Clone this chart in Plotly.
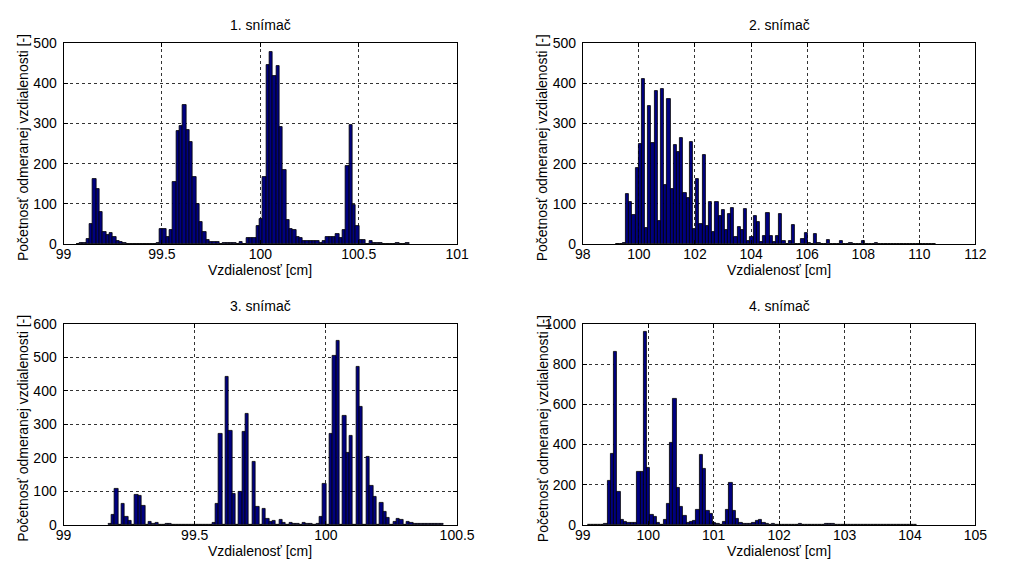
import numpy as np
import plotly.graph_objects as go

W, H = 1010, 566

# ---- data (histogram counts, 100 bins each) ----
titles = ["1. snímač", "2. snímač", "3. snímač", "4. snímač"]
xlabel = "Vzdialenosť [cm]"
ylabel = "Početnosť odmeranej vzdialenosti [-]"

bin_start = [99.064, 99.19, 99.170, 99.074]
bin_width = [0.01693, 0.1138, 0.01278, 0.0503]

counts1 = [1, 2, 2, 14, 51, 162, 136, 80, 30, 23,
           28, 18, 8, 5, 2, 1, 0, 0, 0, 0,
           1, 1, 0, 0, 4, 37, 37, 17, 34, 155,
           281, 293, 347, 283, 255, 167, 101, 54, 29, 10,
           6, 6, 6, 1, 3, 2, 2, 3, 1, 5,
           0, 15, 15, 16, 45, 62, 167, 446, 477, 418,
           444, 290, 184, 59, 38, 35, 19, 15, 9, 8,
           7, 8, 8, 3, 8, 18, 17, 19, 26, 15,
           35, 194, 297, 97, 44, 11, 10, 1, 7, 2,
           2, 3, 1, 1, 0, 1, 2, 0, 1, 2]

counts2 = [1, 0, 3, 124, 104, 72, 190, 248, 410, 39,
           344, 252, 381, 57, 385, 148, 361, 137, 247, 230,
           263, 127, 115, 253, 38, 163, 50, 221, 46, 105,
           30, 106, 70, 84, 36, 74, 90, 17, 42, 34,
           88, 7, 17, 71, 55, 6, 21, 77, 20, 5,
           20, 76, 9, 0, 9, 48, 1, 0, 13, 28,
           2, 0, 25, 2, 1, 1, 10, 1, 0, 1,
           7, 1, 0, 3, 1, 0, 0, 7, 0, 0,
           0, 2, 0, 0, 0, 1, 0, 0, 1, 0,
           0, 1, 1, 0, 0, 0, 1, 1, 0, 1]

counts3 = [3, 29, 109, 0, 64, 25, 11, 0, 90, 87,
           58, 0, 9, 3, 5, 0, 0, 2, 2, 0,
           0, 0, 0, 0, 0, 0, 0, 0, 0, 0,
           0, 7, 62, 272, 0, 443, 280, 93, 0, 100,
           279, 333, 0, 189, 54, 0, 49, 18, 8, 11,
           0, 14, 5, 0, 5, 4, 2, 0, 5, 2,
           3, 0, 3, 23, 122, 0, 273, 505, 550, 0,
           327, 214, 265, 0, 471, 351, 0, 202, 118, 84,
           0, 67, 40, 20, 0, 8, 17, 16, 0, 9,
           6, 4, 3, 3, 2, 2, 2, 2, 2, 2]

counts4 = [3, 0, 0, 0, 0, 5, 220, 353, 860, 163,
           27, 18, 10, 11, 11, 264, 264, 960, 285, 50,
           40, 11, 3, 24, 103, 407, 625, 184, 92, 47,
           10, 16, 23, 76, 349, 277, 72, 55, 11, 5,
           0, 18, 76, 208, 72, 31, 10, 8, 5, 8,
           13, 19, 26, 13, 8, 3, 6, 3, 3, 2,
           1, 3, 3, 3, 4, 3, 2, 0, 0, 0,
           0, 1, 4, 5, 5, 3, 0, 0, 0, 0,
           0, 0, 2, 3, 2, 1, 0, 0, 0, 3,
           1, 0, 0, 0, 0, 0, 0, 0, 0, 1]

all_counts = [counts1, counts2, counts3, counts4]

x_ranges = [[99, 101], [98, 112], [99, 100.5], [99, 105]]
x_ticks = [[99, 99.5, 100, 100.5, 101],
           [98, 100, 102, 104, 106, 108, 110, 112],
           [99, 99.5, 100, 100.5],
           [99, 100, 101, 102, 103, 104, 105]]
x_ticktext = [["99", "99.5", "100", "100.5", "101"],
              ["98", "100", "102", "104", "106", "108", "110", "112"],
              ["99", "99.5", "100", "100.5"],
              ["99", "100", "101", "102", "103", "104", "105"]]
y_ranges = [[0, 500], [0, 500], [0, 600], [0, 1000]]
y_dtick = [100, 100, 100, 200]

# ---- layout geometry (pixels) ----
boxes = [(57, 461, 36, 243), (590, 993, 36, 243),
         (57, 461, 325, 532), (590, 993, 325, 532)]

FONT = "Liberation Sans, Arial, sans-serif"
FS = 14

def px(x):
    return x / W

def py(y):
    return 1 - y / H

fig = go.Figure()
annotations = []
for i in range(4):
    n = len(all_counts[i])
    centers = bin_start[i] + bin_width[i] * (np.arange(n) + 0.5)
    ax = "" if i == 0 else str(i + 1)
    fig.add_trace(go.Bar(
        x=centers, y=all_counts[i], width=bin_width[i],
        marker=dict(color="#000080", line=dict(color="#000000", width=0.8)),
        xaxis="x" + ax, yaxis="y" + ax, showlegend=False,
        hoverinfo="x+y"))
    l, r, t, b = boxes[i]
    common = dict(showline=True, linecolor="#000000", linewidth=1, mirror="ticks",
                  ticks="inside", ticklen=4, tickcolor="#000000",
                  showgrid=True, gridcolor="#333333", griddash="dot", gridwidth=1,
                  zeroline=False, tickfont=dict(family=FONT, size=FS, color="#000"))
    fig.update_layout(**{
        "xaxis" + ax: dict(domain=[px(l), px(r)], range=x_ranges[i],
                           tickvals=x_ticks[i], ticktext=x_ticktext[i],
                           ticklabelstandoff=-3,
                           anchor="y" + ax, **common),
        "yaxis" + ax: dict(domain=[py(b), py(t)], range=y_ranges[i],
                           dtick=y_dtick[i], tick0=0, ticklabelstandoff=3,
                           anchor="x" + ax, **common),
    })
    cx = (l + r) / 2
    cy = (t + b) / 2
    annotations.append(dict(text=titles[i], x=px(cx), y=py(t - 18), xref="paper", yref="paper",
                            showarrow=False, xanchor="center", yanchor="middle",
                            font=dict(family=FONT, size=FS, color="#000")))
    annotations.append(dict(text=xlabel, x=px(cx), y=py(b + 27), xref="paper", yref="paper",
                            showarrow=False, xanchor="center", yanchor="middle",
                            font=dict(family=FONT, size=FS, color="#000")))
    annotations.append(dict(text=ylabel, x=px(l - 41), y=py(cy + 4), xref="paper", yref="paper",
                            showarrow=False, xanchor="center", yanchor="middle", textangle=-90,
                            font=dict(family=FONT, size=FS, color="#000")))

fig.update_layout(width=W, height=H, margin=dict(l=0, r=0, t=0, b=0),
                  paper_bgcolor="white", plot_bgcolor="white",
                  bargap=0, annotations=annotations,
                  font=dict(family=FONT, size=FS, color="#000"))

fig.write_html("out.html")
